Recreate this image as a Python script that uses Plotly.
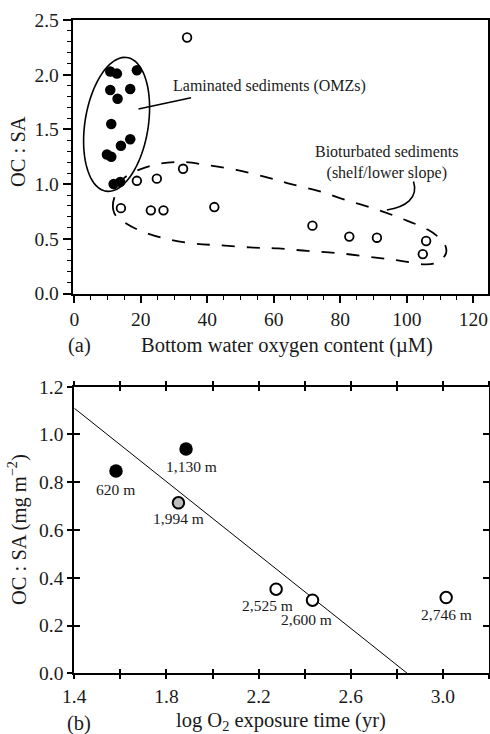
import numpy as np
import plotly.graph_objects as go

W, H = 490, 734
FONT = "Liberation Serif"
INK = "#1a1a1a"

# ---------------- Panel (a) data ----------------
lam_o2 = [10.8, 12.8, 18.8, 10.8, 16.8, 13.0, 11.1, 16.8, 14.0, 9.8, 11.1, 13.8, 11.8]
lam_ocsa = [2.03, 2.01, 2.04, 1.86, 1.87, 1.78, 1.55, 1.41, 1.35, 1.27, 1.25, 1.02, 1.00]
bio_o2 = [33.9, 32.7, 18.8, 24.8, 14.0, 23.0, 26.8, 42.1, 71.6, 82.7, 91.0, 105.8, 104.8]
bio_ocsa = [2.34, 1.14, 1.03, 1.05, 0.78, 0.76, 0.76, 0.79, 0.62, 0.52, 0.51, 0.48, 0.36]

# outline of the bioturbated-sediment envelope (data units)
bio_env_x = [11.7, 12.0, 15.0, 22.8, 31.3, 39.7, 48.7, 57.4, 64.9, 73.3, 81.7, 90.4, 98.6,
             106.4, 110.9, 111.8, 109.4, 105.2, 96.5, 87.7, 78.7, 70.0, 61.3, 52.9, 43.9,
             35.5, 27.0, 18.9, 13.2]
bio_env_y = [0.764, 0.874, 1.057, 1.166, 1.203, 1.175, 1.130, 1.066, 1.002, 0.938, 0.855,
             0.773, 0.683, 0.582, 0.472, 0.371, 0.289, 0.266, 0.307, 0.339, 0.371, 0.389,
             0.412, 0.421, 0.440, 0.458, 0.504, 0.586, 0.691]

# ---------------- Panel (b) data ----------------
site_labels = ["620 m", "1,130 m", "1,994 m", "2,525 m", "2,600 m", "2,746 m"]
log_oet = [1.581, 1.885, 1.852, 2.276, 2.434, 3.014]
ocsa_b = [0.847, 0.939, 0.714, 0.352, 0.306, 0.317]
site_group = ["filled", "filled", "gray", "open", "open", "open"]
fit_intercept = 2.185
fit_slope = -0.768

# label offsets (pixels) - styling only
label_dx = [-1, 5, 0, -9, -6, 0]
label_dy = [-18, -17, -16, -16, -19, -17]

# ---------------- layout geometry ----------------
xa_dom = [72.7 / W, 488.3 / W]
ya_dom = [1 - 293.5 / H, 1 - 20 / H]
xa_rng = [-0.5, 124.5]
ya_rng = [0, 2.5]
xb_dom = [74.3 / W, 489 / W]
yb_dom = [1 - 673.3 / H, 1 - 386.7 / H]
xb_rng = [1.4, 3.2]
yb_rng = [0, 1.2]

ppx = (xa_dom[1] - xa_dom[0]) * W / (xa_rng[1] - xa_rng[0])
ppy = (ya_dom[1] - ya_dom[0]) * H / (ya_rng[1] - ya_rng[0])

fig = go.Figure()

# panel (a) markers
fig.add_trace(go.Scatter(x=lam_o2, y=lam_ocsa, mode="markers", xaxis="x", yaxis="y",
                         marker=dict(size=10.5, color="black"), hoverinfo="skip"))
fig.add_trace(go.Scatter(x=bio_o2, y=bio_ocsa, mode="markers", xaxis="x", yaxis="y",
                         marker=dict(size=8.6, color="white", line=dict(color="black", width=1.8)),
                         hoverinfo="skip"))

# panel (b) regression line
fit_x = [xb_rng[0], -fit_intercept / fit_slope]
fit_y = [fit_intercept + fit_slope * v for v in fit_x]
fig.add_trace(go.Scatter(x=fit_x, y=fit_y, mode="lines", xaxis="x2", yaxis="y2",
                         line=dict(color="black", width=1), hoverinfo="skip"))

style = {
    "filled": dict(size=13.5, color="black", line=dict(color="black", width=0)),
    "gray": dict(size=11.5, color="#bdbdbd", line=dict(color="black", width=2)),
    "open": dict(size=11.5, color="white", line=dict(color="black", width=2)),
}
for g in ["filled", "gray", "open"]:
    xs = [x for x, s in zip(log_oet, site_group) if s == g]
    ys = [y for y, s in zip(ocsa_b, site_group) if s == g]
    fig.add_trace(go.Scatter(x=xs, y=ys, mode="markers", xaxis="x2", yaxis="y2",
                             marker=style[g], hoverinfo="skip"))

# invisible trace for overlay (inside-tick) axes
fig.add_trace(go.Scatter(x=[log_oet[0]], y=[ocsa_b[0]], mode="markers", xaxis="x4", yaxis="y4",
                         marker=dict(opacity=0), hoverinfo="skip", showlegend=False))

# ---------------- shapes ----------------
shapes = []
# laminated ellipse (built in pixel space, converted to data units)
cx, cy = 12.7, 1.546
t = np.linspace(0, 2 * np.pi, 90)
dxp = 33 * np.cos(t)
dyp = 16.7 * np.cos(t) + 64.9 * np.sin(t)
ex = cx + dxp / ppx
ey = cy + dyp / ppy
path = "M " + " L ".join(f"{a:.3f},{b:.4f}" for a, b in zip(ex, ey)) + " Z"
shapes.append(dict(type="path", path=path, xref="x", yref="y",
                   line=dict(color="black", width=1.6)))

# dashed envelope: closed Catmull-Rom spline
n = len(bio_env_x)
P = list(zip(bio_env_x, bio_env_y))
seg = [f"M {P[0][0]},{P[0][1]}"]
for i in range(n):
    p0 = P[(i - 1) % n]
    p1 = P[i]
    p2 = P[(i + 1) % n]
    p3 = P[(i + 2) % n]
    c1 = (p1[0] + (p2[0] - p0[0]) / 6, p1[1] + (p2[1] - p0[1]) / 6)
    c2 = (p2[0] - (p3[0] - p1[0]) / 6, p2[1] - (p3[1] - p1[1]) / 6)
    seg.append(f"C {c1[0]:.3f},{c1[1]:.4f} {c2[0]:.3f},{c2[1]:.4f} {p2[0]},{p2[1]}")
shapes.append(dict(type="path", path=" ".join(seg) + " Z", xref="x", yref="y",
                   line=dict(color="black", width=1.8, dash="13px,12px")))

# leader lines
shapes.append(dict(type="line", xref="x", yref="y", x0=19.3, y0=1.686, x1=35.1, y1=1.790,
                   line=dict(color="black", width=1.6)))
shapes.append(dict(type="path", xref="x", yref="y",
                   path="M 102.0,1.023 C 103.6,0.873 99.6,0.790 94.0,0.764",
                   line=dict(color="black", width=1.6)))

# ---------------- annotations ----------------
ann = []
def txt(x, y, s, size, xref="paper", yref="paper", angle=0, **kw):
    ann.append(dict(x=x, y=y, xref=xref, yref=yref, text=s, showarrow=False, textangle=angle,
                    font=dict(family=FONT, size=size, color=INK), xanchor="center",
                    yanchor="middle", **kw))

txt(58.6, 1.898, "Laminated sediments (OMZs)", 16, "x", "y")
txt(94.0, 1.194, "Bioturbated sediments<br>(shelf/lower slope)", 16, "x", "y")
txt(287 / W, 1 - 345 / H, "Bottom water oxygen content (µM)", 20.5)
txt(79 / W, 1 - 345 / H, "(a)", 20.5)
txt(18 / W, 1 - 152 / H, "OC : SA", 20.5, angle=-90)
txt(281 / W, 1 - 721 / H, "log O<sub>2</sub> exposure time (yr)", 20.5)
txt(79 / W, 1 - 723 / H, "(b)", 20.5)
txt(17 / W, 1 - 530 / H, "OC : SA (mg m<sup>−2</sup>)", 20.5, angle=-90)

for lab, x, y, dx, dy in zip(site_labels, log_oet, ocsa_b, label_dx, label_dy):
    txt(x, y, lab, 15.5, "x2", "y2", xshift=dx, yshift=dy)

axis_common = dict(showgrid=False, zeroline=False, showline=True, linecolor="black",
                   automargin=False,
                   tickcolor="black", tickfont=dict(family=FONT, size=19.5, color=INK))
overlay_common = dict(showticklabels=False, showgrid=False, zeroline=False, showline=True,
                      linecolor="black", tickcolor="black", automargin=False)

fig.update_layout(
    width=W, height=H, margin=dict(l=0, r=0, t=0, b=0, autoexpand=False),
    paper_bgcolor="white", plot_bgcolor="white", showlegend=False,
    font=dict(family=FONT, color=INK),
    xaxis=dict(domain=xa_dom, range=xa_rng, anchor="y", tick0=0, dtick=20,
               ticks="outside", ticklen=7, tickwidth=1.5, linewidth=2, mirror=True,
               minor=dict(tick0=0, dtick=5, ticks="outside", ticklen=4, tickwidth=1.3,
                          tickcolor="black"),
               **axis_common),
    yaxis=dict(domain=ya_dom, range=ya_rng, anchor="x", tick0=0, dtick=0.5, tickformat=".1f",
               ticks="outside", ticklen=8, tickwidth=1.5, linewidth=2, mirror=True,
               minor=dict(tick0=0, dtick=0.1, ticks="outside", ticklen=4, tickwidth=1.3,
                          tickcolor="black"),
               **axis_common),
    xaxis2=dict(domain=xb_dom, range=xb_rng, anchor="y2", tick0=1.4, dtick=0.4,
                tickformat=".1f", ticks="outside", ticklen=4, tickwidth=1.8, linewidth=2,
                mirror="ticks",
                minor=dict(tick0=1.4, dtick=0.2, ticks="outside", ticklen=4, tickwidth=1.8,
                           tickcolor="black"),
                **axis_common),
    yaxis2=dict(domain=yb_dom, range=yb_rng, anchor="x2", tick0=0, dtick=0.2,
                tickformat=".1f", ticks="outside", ticklen=5, tickwidth=1.8, linewidth=2,
                mirror=True, **axis_common),
    xaxis4=dict(overlaying="x2", range=xb_rng, anchor="y4", tick0=1.4, dtick=0.2,
                ticks="inside", ticklen=4, tickwidth=1.8, linewidth=2, mirror="ticks",
                **overlay_common),
    yaxis4=dict(overlaying="y2", range=yb_rng, anchor="x4", tick0=0, dtick=0.2,
                ticks="inside", ticklen=6, tickwidth=1.8, linewidth=2, mirror="ticks",
                **overlay_common),
    shapes=shapes, annotations=ann,
)

fig.write_html("out.html")
